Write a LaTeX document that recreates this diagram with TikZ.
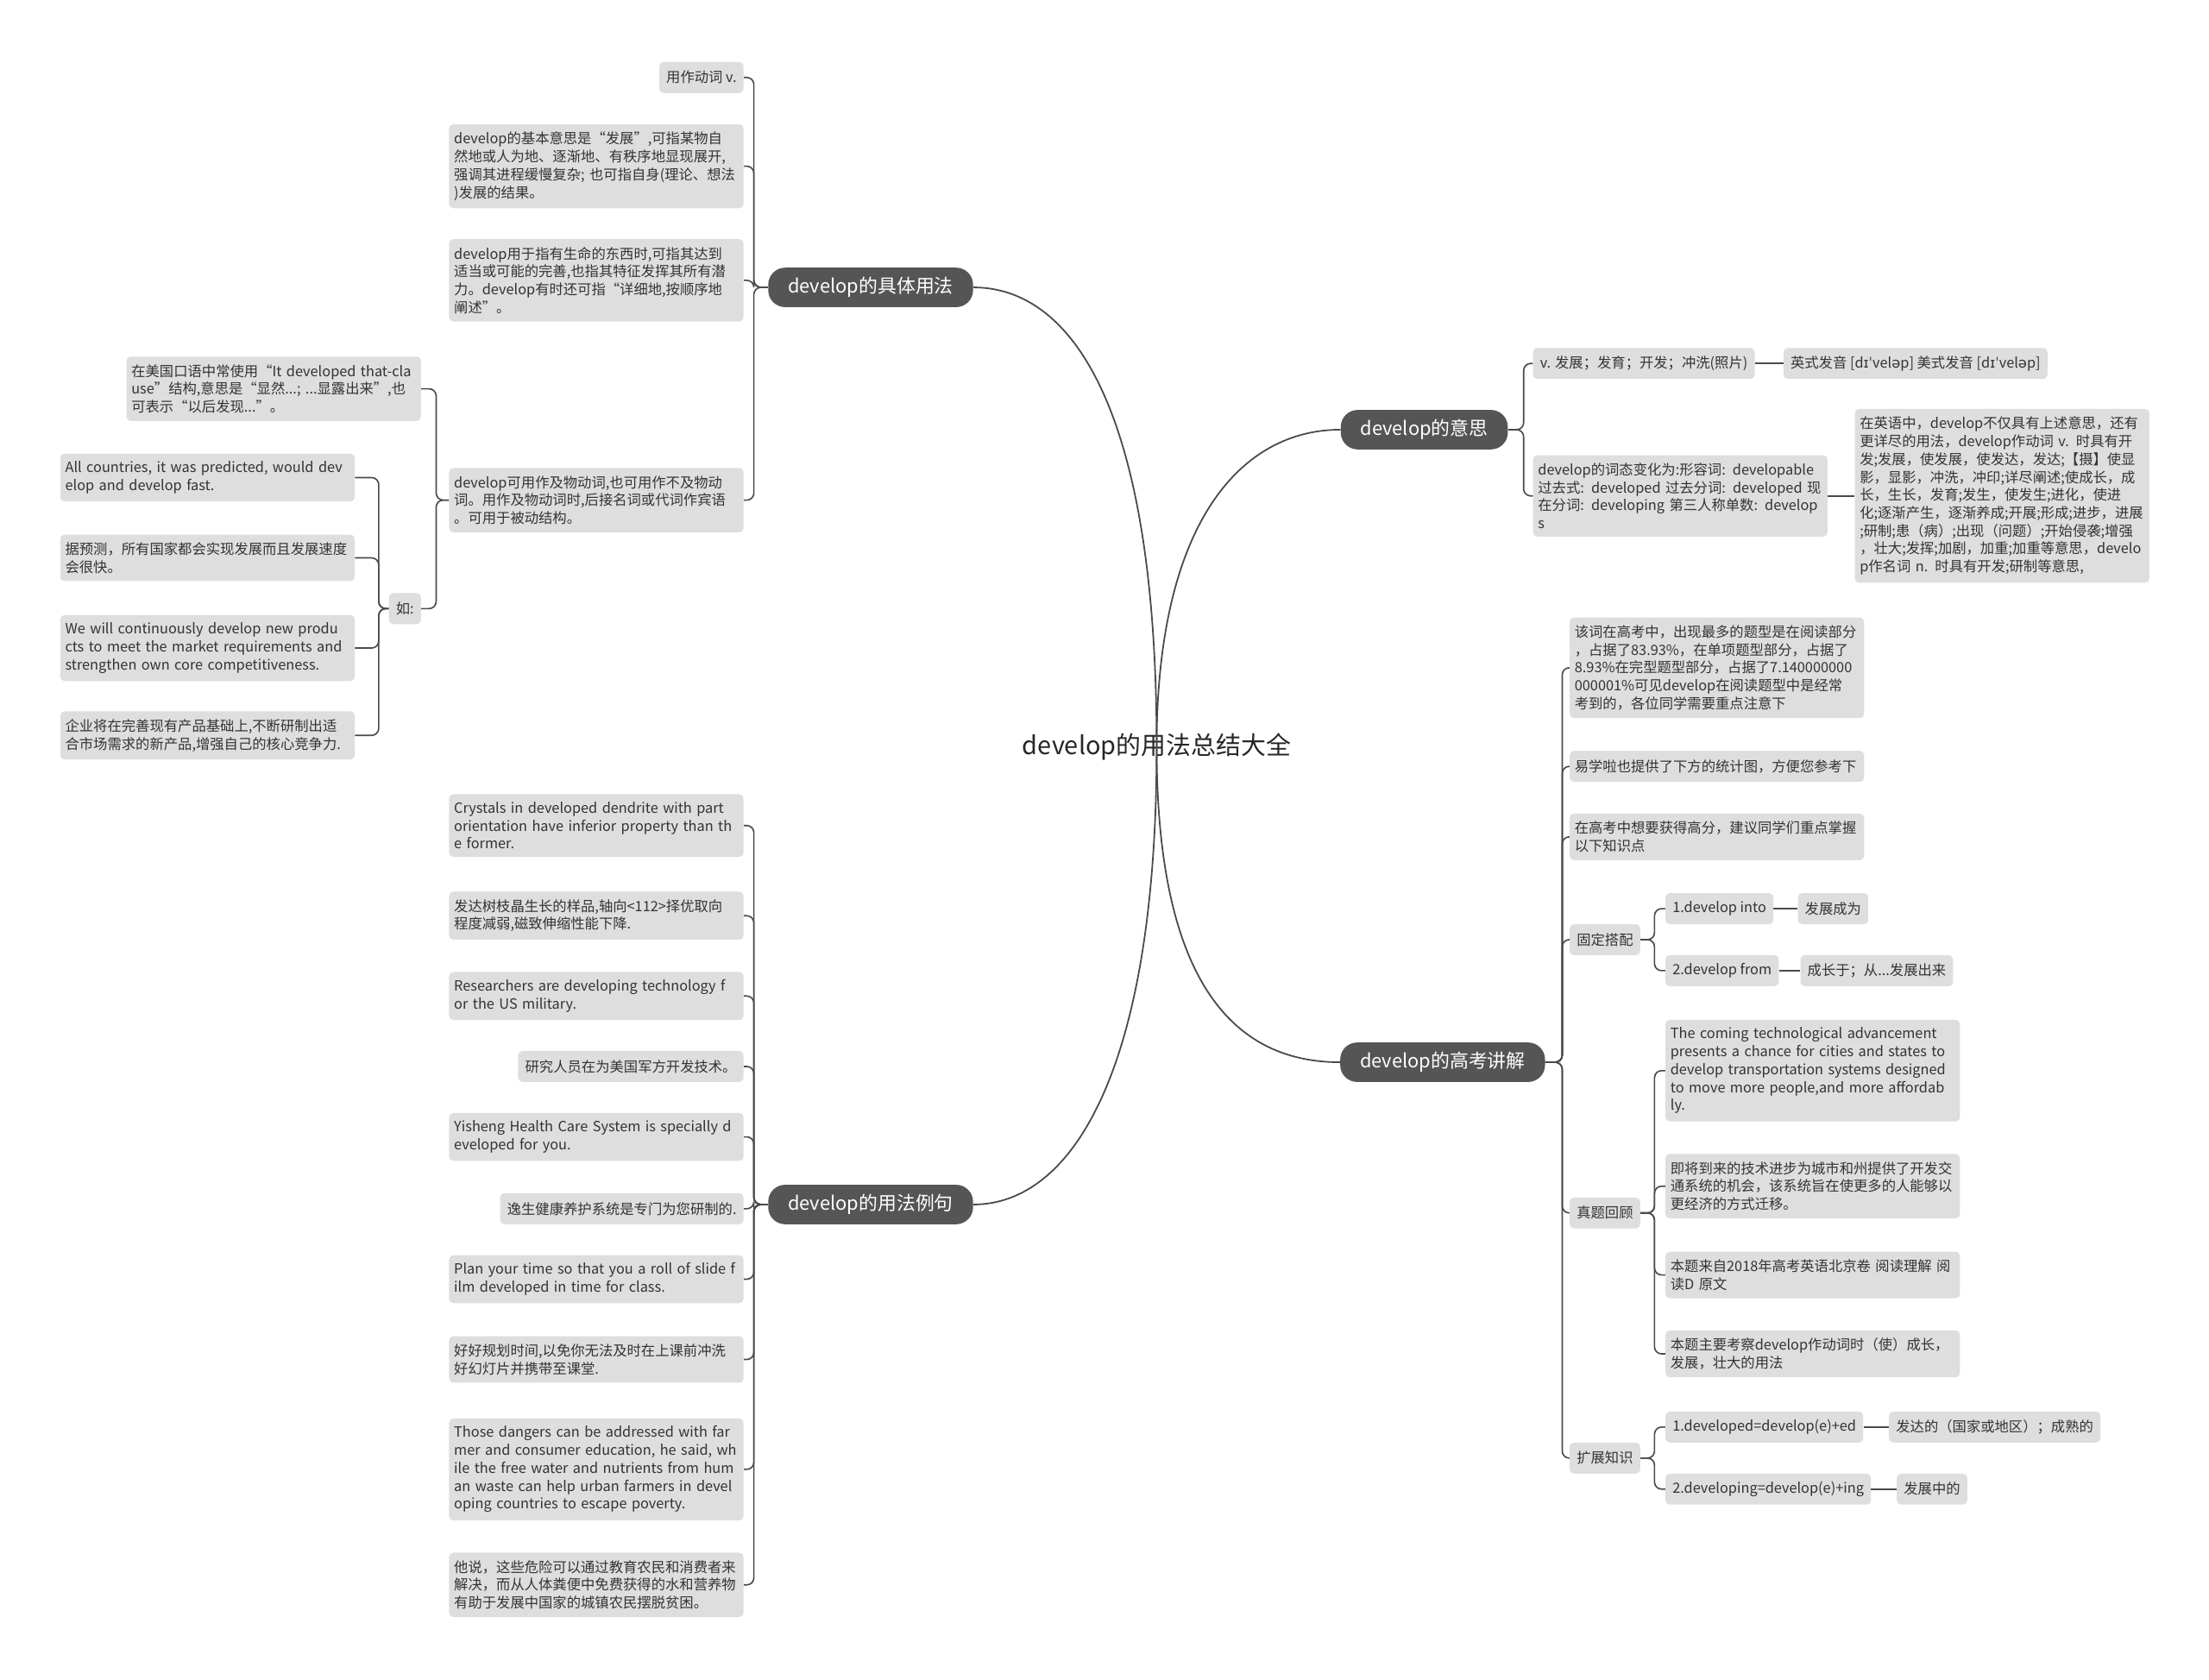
\documentclass[tikz,border=0pt]{standalone}
\usepackage{fontspec}
\setmainfont{Noto Sans CJK SC}
\newfontfamily\ipafont{DejaVu Sans}
\usetikzlibrary{positioning}
\definecolor{topicgray}{HTML}{555555}
\definecolor{leafgray}{HTML}{DEDEDE}
\definecolor{inkgray}{HTML}{333333}
\definecolor{linegray}{HTML}{4A4A4A}
\tikzset{
  leaf/.style={fill=leafgray, text=inkgray, rounded corners=3pt, align=left,
    inner xsep=5pt, inner ysep=5.5pt, minimum height=22pt,
    font=\fontsize{10}{12.7}\selectfont},
  wide/.style={leaf, text width=202pt, inner xsep=3.5pt},
  topic/.style={fill=topicgray, text=white, rounded corners=12pt,
    minimum height=28pt, inner xsep=14pt, font=\fontsize{13.4}{16}\selectfont},
  link/.style={draw=linegray, line width=1pt, rounded corners=5pt},
  trunk/.style={draw=linegray, line width=1.1pt},
}

\begin{document}
\begin{tikzpicture}[x=1pt,y=-1pt]
    \fill[white] (0,0) rectangle (1568,1192);
    \useasboundingbox (0,0) rectangle (1568,1192);

    \node[font=\fontsize{17.7}{20}\selectfont, text=black!85] (root) at (821,530) {develop的用法总结大全};

    % main branches
    \node[topic] (b1) at (618,204) {develop的具体用法};
    \node[topic] (b2) at (1011,305) {develop的意思};
    \node[topic] (b3) at (1024,754) {develop的高考讲解};
    \node[topic] (b4) at (618,855) {develop的用法例句};

    % develop的具体用法
    \node[leaf, anchor=east] (u1) at (528,55) {用作动词 v.};
    \node[wide, anchor=east] (u2) at (528,118) {develop的基本意思是“发展”,可指某物自\\然地或人为地、逐渐地、有秩序地显现展开,\\强调其进程缓慢复杂; 也可指自身(理论、想法\\)发展的结果。};
    \node[wide, anchor=east] (u3) at (528,199) {develop用于指有生命的东西时,可指其达到\\适当或可能的完善,也指其特征发挥其所有潜\\力。develop有时还可指“详细地,按顺序地\\阐述”。};
    \node[wide, anchor=east] (u4) at (528,355) {develop可用作及物动词,也可用作不及物动\\词。用作及物动词时,后接名词或代词作宾语\\。可用于被动结构。};
    \node[wide, anchor=east] (u5) at (299,276) {在美国口语中常使用“It developed that-cla\\use”结构,意思是“显然...; ...显露出来”,也\\可表示“以后发现...”。};
    \node[leaf, anchor=east] (ru) at (299,432) {如:};
    \node[wide, anchor=east] (r1) at (252,339) {All countries, it was predicted, would dev\\elop and develop fast.};
    \node[wide, anchor=east] (r2) at (252,396) {据预测，所有国家都会实现发展而且发展速度\\会很快。};
    \node[wide, anchor=east] (r3) at (252,460) {We will continuously develop new produ\\cts to meet the market requirements and\\strengthen own core competitiveness.};
    \node[wide, anchor=east] (r4) at (252,522) {企业将在完善现有产品基础上,不断研制出适\\合市场需求的新产品,增强自己的核心竞争力.};

    % develop的用法例句
    \node[wide, anchor=east] (e1) at (528,586) {Crystals in developed dendrite with part\\orientation have inferior property than th\\e former.};
    \node[wide, anchor=east] (e2) at (528,650) {发达树枝晶生长的样品,轴向<112>择优取向\\程度减弱,磁致伸缩性能下降.};
    \node[wide, anchor=east] (e3) at (528,707) {Researchers are developing technology f\\or the US military.};
    \node[leaf, anchor=east] (e4) at (528,757) {研究人员在为美国军方开发技术。};
    \node[wide, anchor=east] (e5) at (528,807) {Yisheng Health Care System is specially d\\eveloped for you.};
    \node[leaf, anchor=east] (e6) at (528,858) {逸生健康养护系统是专门为您研制的.};
    \node[wide, anchor=east] (e7) at (528,908) {Plan your time so that you a roll of slide f\\ilm developed in time for class.};
    \node[wide, anchor=east] (e8) at (528,965) {好好规划时间,以免你无法及时在上课前冲洗\\好幻灯片并携带至课堂.};
    \node[wide, anchor=east] (e9) at (528,1043) {Those dangers can be addressed with far\\mer and consumer education, he said, wh\\ile the free water and nutrients from hum\\an waste can help urban farmers in devel\\oping countries to escape poverty.};
    \node[wide, anchor=east] (e10) at (528,1125) {他说，这些危险可以通过教育农民和消费者来\\解决，而从人体粪便中免费获得的水和营养物\\有助于发展中国家的城镇农民摆脱贫困。};

    % develop的意思
    \node[leaf, anchor=west] (m1) at (1088,258) {v. 发展；发育；开发；冲洗(照片)};
    \node[leaf, right=20pt of m1] (m1a) {英式发音 [d{\ipafont ɪˈ}vel{\ipafont ə}p] 美式发音 [d{\ipafont ɪˈ}vel{\ipafont ə}p]};
    \node[wide, anchor=west] (m2) at (1088,352) {develop的词态变化为:形容词: developable\\过去式: developed 过去分词: developed 现\\在分词: developing 第三人称单数: develop\\s};
    \node[wide, right=19pt of m2] (m2a) {在英语中，develop不仅具有上述意思，还有\\更详尽的用法，develop作动词 v. 时具有开\\发;发展，使发展，使发达，发达;【摄】使显\\影，显影，冲洗，冲印;详尽阐述;使成长，成\\长，生长，发育;发生，使发生;进化，使进\\化;逐渐产生，逐渐养成;开展;形成;进步，进展\\;研制;患（病）;出现（问题）;开始侵袭;增强\\，壮大;发挥;加剧，加重;加重等意思，develo\\p作名词 n. 时具有开发;研制等意思,};

    % develop的高考讲解
    \node[wide, anchor=west] (k1) at (1114,474) {该词在高考中，出现最多的题型是在阅读部分\\，占据了83.93\%，在单项题型部分，占据了\\8.93\%在完型题型部分，占据了7.140000000\\000001\%可见develop在阅读题型中是经常\\考到的，各位同学需要重点注意下};
    \node[wide, anchor=west] (k2) at (1114,544) {易学啦也提供了下方的统计图，方便您参考下};
    \node[wide, anchor=west] (k3) at (1114,594) {在高考中想要获得高分，建议同学们重点掌握\\以下知识点};
    \node[leaf, anchor=west] (k4) at (1114,667) {固定搭配};
    \node[leaf, anchor=west] (k4a) at (1182,645) {1.develop into};
    \node[leaf, anchor=west] (k4b) at (1182,689) {2.develop from};
    \node[leaf, right=17pt of k4a] (k4c) {发展成为};
    \node[leaf, right=15pt of k4b] (k4d) {成长于；从...发展出来};
    \node[leaf, anchor=west] (k5) at (1114,861) {真题回顾};
    \node[wide, anchor=west] (k5a) at (1182,760) {The coming technological advancement\\presents a chance for cities and states to\\develop transportation systems designed\\ to move more people,and more affordab\\ly.};
    \node[wide, anchor=west] (k5b) at (1182,842) {即将到来的技术进步为城市和州提供了开发交\\通系统的机会，该系统旨在使更多的人能够以\\更经济的方式迁移。};
    \node[wide, anchor=west] (k5c) at (1182,905) {本题来自2018年高考英语北京卷 阅读理解 阅\\读D 原文};
    \node[wide, anchor=west] (k5d) at (1182,961) {本题主要考察develop作动词时（使）成长，\\发展，壮大的用法};
    \node[leaf, anchor=west] (k6) at (1114,1035) {扩展知识};
    \node[leaf, anchor=west] (k6a) at (1182,1013) {1.developed=develop(e)+ed};
    \node[leaf, anchor=west] (k6b) at (1182,1057) {2.developing=develop(e)+ing};
    \node[leaf, right=18pt of k6a] (k6c) {发达的（国家或地区）；成熟的};
    \node[leaf, right=18pt of k6b] (k6d) {发展中的};

    % trunk curves
    \draw[trunk] (root.center) .. controls +(0,-240) and +(70,0) .. (b1.east);
    \draw[trunk] (root.center) .. controls +(0,-160) and +(-70,0) .. (b2.west);
    \draw[trunk] (root.center) .. controls +(0,160) and +(-80,0) .. (b3.west);
    \draw[trunk] (root.center) .. controls +(0,230) and +(70,0) .. (b4.east);

    % branch links
    \foreach \n in {u1,u2,u3,u4}
    {
      \draw[link] (b1.west) -- ++(-10,0) |- (\n.east);
    }
    \foreach \n in {u5,ru}
    {
      \draw[link] (u4.west) -- ++(-9,0) |- (\n.east);
    }
    \foreach \n in {r1,r2,r3,r4}
    {
      \draw[link] (ru.west) -- ++(-7,0) |- (\n.east);
    }
    \foreach \n in {e1,e2,e3,e4,e5,e6,e7,e8,e9,e10}
    {
      \draw[link] (b4.west) -- ++(-10,0) |- (\n.east);
    }
    \foreach \n in {m1,m2}
    {
      \draw[link] (b2.east) -- ++(11,0) |- (\n.west);
    }
    \draw[link] (m1) -- (m1a);
    \draw[link] (m2) -- (m2a);
    \foreach \n in {k1,k2,k3,k4,k5,k6}
    {
      \draw[link] (b3.east) -- ++(12,0) |- (\n.west);
    }
    \foreach \n in {k4a,k4b}
    {
      \draw[link] (k4.east) -- ++(10,0) |- (\n.west);
    }
    \foreach \n in {k5a,k5b,k5c,k5d}
    {
      \draw[link] (k5.east) -- ++(10,0) |- (\n.west);
    }
    \foreach \n in {k6a,k6b}
    {
      \draw[link] (k6.east) -- ++(10,0) |- (\n.west);
    }
    \draw[link] (k4a) -- (k4c);
    \draw[link] (k4b) -- (k4d);
    \draw[link] (k6a) -- (k6c);
    \draw[link] (k6b) -- (k6d);
\end{tikzpicture}
\end{document}
